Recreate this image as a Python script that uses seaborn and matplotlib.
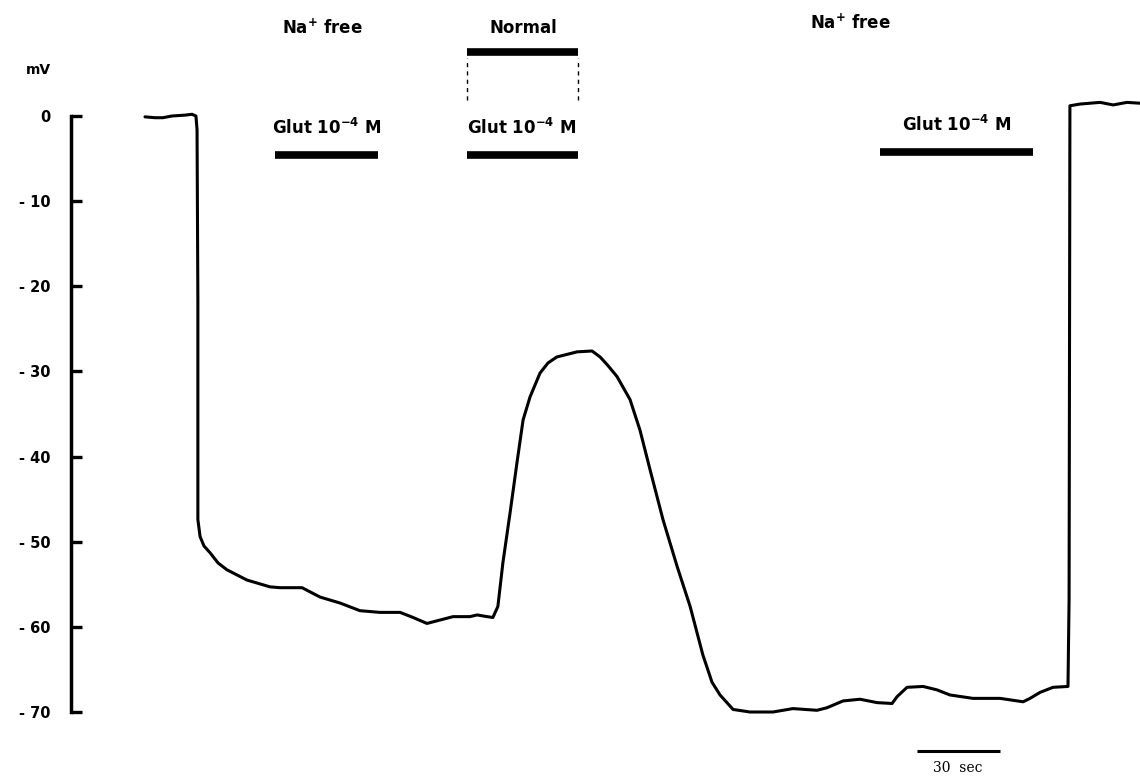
import pandas as pd
import matplotlib.pyplot as plt
import seaborn as sns

# membrane potential trace (time in s, potential in mV)
time_s = [0, 3.6, 6.5, 9.7, 14.4, 17.0, 18.4, 18.8, 19.1, 19.1, 19.9, 21.3, 23.5, 26.4,
          29.6, 36.8, 45.1, 48.7, 56.7, 63.2, 70.4, 77.6, 84.8, 92.1, 96.8, 101.8, 106.5,
          111.2, 117.3, 119.9, 123.5, 125.6, 127.4, 129.2, 131.8, 134.3, 136.5, 139.0,
          142.6, 145.5, 148.7, 156.0, 161.4, 164.3, 167.1, 170.4, 175.1, 178.7, 182.3,
          187.0, 192.1, 196.8, 201.4, 204.7, 207.6, 212.3, 218.4, 226.7, 233.9, 242.6,
          246.2, 252.0, 258.1, 264.3, 269.7, 271.5, 275.1, 280.9, 285.9, 290.6, 298.9,
          308.7, 317.0, 319.5, 323.1, 327.8, 333.2, 333.6, 333.9, 333.9, 337.5, 341.1,
          344.8, 349.5, 354.5, 359.2]
potential_mV = [-0.1, -0.2, -0.2, 0.0, 0.1, 0.2, 0.0, -1.6, -21.6, -47.4, -49.4, -50.5,
                -51.3, -52.5, -53.3, -54.5, -55.3, -55.4, -55.4, -56.5, -57.2, -58.1, -58.3,
                -58.3, -58.9, -59.6, -59.2, -58.8, -58.8, -58.6, -58.8, -58.9, -57.6, -52.5,
                -46.6, -40.7, -35.7, -33.0, -30.2, -29.0, -28.3, -27.7, -27.6, -28.3, -29.3,
                -30.6, -33.3, -36.9, -41.5, -47.4, -52.9, -57.6, -63.3, -66.5, -68.0, -69.7,
                -70.0, -70.0, -69.6, -69.8, -69.5, -68.7, -68.5, -68.9, -69.0, -68.2, -67.1,
                -67.0, -67.4, -68.0, -68.4, -68.4, -68.8, -68.4, -67.7, -67.1, -67.0, -56.8,
                0.7, 1.2, 1.4, 1.5, 1.6, 1.3, 1.6, 1.5]

y_ticks = [0, -10, -20, -30, -40, -50, -60, -70]
y_tick_labels = ['0', '- 10', '- 20', '- 30', '- 40', '- 50', '- 60', '- 70']

# glutamate applications (start, end in s)
glut_start = [46.9, 116.2, 265.3]
glut_end = [84.1, 156.3, 320.6]
glut_level = [-4.6, -4.6, -4.2]
normal_start, normal_end = 116.2, 156.3

df = pd.DataFrame({'t': time_s, 'mV': potential_mV})

sns.set_style('white')
plt.rcParams['font.family'] = ['DejaVu Sans']
plt.rcParams['mathtext.fontset'] = 'dejavusans'
plt.rcParams['mathtext.default'] = 'bf'
plt.rcParams['text.color'] = 'black'
plt.rcParams['ytick.color'] = 'black'
plt.rcParams['ytick.labelcolor'] = 'black'

fig = plt.figure(figsize=(11.4, 7.76), dpi=100)
ax = fig.add_axes([71 / 1140, 64 / 776, 1069 / 1140, 596 / 776])

sns.lineplot(data=df, x='t', y='mV', sort=False, estimator=None, color='black',
             linewidth=2.2, ax=ax)
for ln in ax.lines:
    ln.set_clip_on(False)
    ln.set_solid_joinstyle('round')

ax.set_xlim(-26.7, 359.2)
ax.set_ylim(-70, 0)
ax.set_xlabel('')
ax.set_ylabel('')
ax.set_xticks([])
ax.set_yticks(y_ticks)
ax.set_yticklabels(y_tick_labels, fontweight='bold', fontsize=10.5, color='black')
ax.tick_params(axis='y', direction='in', length=8, width=2.4, pad=15, left=True,
               colors='black')
for side in ['top', 'right', 'bottom']:
    ax.spines[side].set_visible(False)
ax.spines['left'].set_linewidth(2.5)
ax.spines['left'].set_color('black')
ax.spines['left'].set_bounds(-70, 0)

ax.text(-38.6, 5.4, 'mV', ha='center', va='center', fontsize=10, fontweight='bold')

# bars
ax.hlines(glut_level, glut_start, glut_end, colors='black', linewidth=5.5, clip_on=False)
ax.hlines(7.5, normal_start, normal_end, colors='black', linewidth=5.5, clip_on=False)
ax.vlines([normal_start, normal_end], 1.9, 6.8, colors='black', linewidth=1,
          linestyles=(0, (3, 3)), clip_on=False)

for x, y in zip([65.7, 136.1, 293.1], [-1.4, -1.4, -1.1]):
    ax.text(x, y, r'Glut 10$^{-4}$ M', ha='center', va='center', fontsize=12,
            fontweight='bold')
ax.text(63.9, 10.3, r'Na$^{+}$ free', ha='center', va='center', fontsize=12, fontweight='bold')
ax.text(136.5, 10.3, 'Normal', ha='center', va='center', fontsize=12, fontweight='bold')
ax.text(254.5, 10.9, r'Na$^{+}$ free', ha='center', va='center', fontsize=12, fontweight='bold')

# time scale bar
ax.hlines(-74.6, 278.7, 308.7, colors='black', linewidth=2.2, clip_on=False)
ax.text(293.5, -76.6, '30  sec', ha='center', va='center', fontsize=10,
        family='DejaVu Serif')

fig.savefig('out.png', dpi=100)
